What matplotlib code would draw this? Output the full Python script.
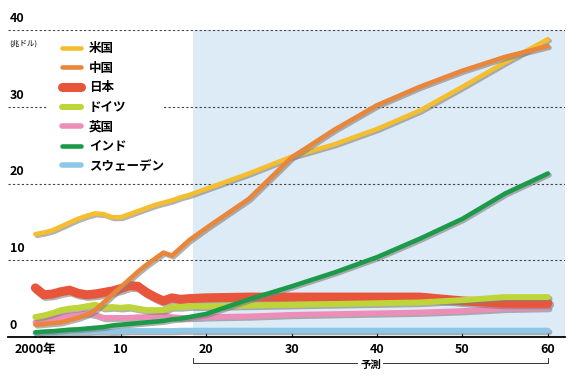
import matplotlib
matplotlib.use("Agg")
import matplotlib.pyplot as plt
import matplotlib.patheffects as pe
from matplotlib.patches import Rectangle

plt.rcParams['font.family'] = ['Noto Sans CJK JP', 'DejaVu Sans']

# 年 (2000-2018 実績, 2020以降 予測)
years = list(range(2000, 2019)) + [2020, 2025, 2030, 2035, 2040, 2045, 2050, 2055, 2060]

# GDP (兆ドル)
us = [13.4, 13.6, 13.9, 14.4, 14.9, 15.4, 15.8, 16.1, 16.0, 15.6, 15.6, 16.0, 16.4, 16.8, 17.2, 17.5, 17.8, 18.2, 18.5,
      19.3, 21.3, 23.5, 25.1, 27.1, 29.5, 32.6, 35.8, 38.8]
china = [1.6, 1.7, 1.8, 1.9, 2.2, 2.5, 2.9, 3.5, 4.5, 5.5, 6.5, 7.5, 8.5, 9.4, 10.2, 11.0, 10.6, 11.6, 12.6,
         14.2, 18.0, 23.4, 27.0, 30.2, 32.6, 34.7, 36.5, 37.9]
japan = [6.4, 5.5, 5.6, 5.9, 6.1, 5.7, 5.5, 5.6, 5.8, 6.0, 6.3, 6.7, 6.6, 5.8, 5.2, 4.7, 5.1, 4.9, 5.0,
         5.1, 5.2, 5.2, 5.2, 5.2, 5.2, 4.7, 4.4, 4.4]
germany = [2.6, 2.8, 3.1, 3.5, 3.7, 3.8, 4.0, 4.2, 3.8, 3.9, 3.8, 3.9, 3.7, 3.5, 3.5, 3.5, 3.9, 3.9, 4.0,
           4.0, 4.1, 4.2, 4.3, 4.4, 4.5, 4.8, 5.2, 5.2]
uk = [1.9, 2.1, 2.4, 2.6, 2.8, 2.9, 3.1, 2.9, 2.5, 2.5, 2.5, 2.5, 2.6, 2.6, 2.7, 2.9, 2.6, 2.5, 2.5,
      2.6, 2.7, 2.9, 3.0, 3.1, 3.2, 3.4, 3.7, 3.8]
india = [0.6, 0.7, 0.75, 0.85, 0.95, 1.0, 1.1, 1.2, 1.3, 1.5, 1.6, 1.7, 1.8, 1.9, 2.0, 2.1, 2.3, 2.4, 2.6,
         3.0, 4.9, 6.6, 8.4, 10.4, 12.8, 15.4, 18.7, 21.3]
sweden = [0.5, 0.5, 0.55, 0.6, 0.65, 0.7, 0.7, 0.75, 0.75, 0.7, 0.75, 0.8, 0.8, 0.8, 0.8, 0.8, 0.8, 0.85, 0.85,
          0.85, 0.85, 0.85, 0.85, 0.85, 0.85, 0.85, 0.85, 0.85]

y_ticks = [0, 10, 20, 30, 40]
x_ticks = [2000, 2010, 2020, 2030, 2040, 2050, 2060]
x_labels = ['2000年', '10', '20', '30', '40', '50', '60']
forecast_start = 2018.5

fig = plt.figure(figsize=(5.76, 3.77), dpi=100)
ax = fig.add_axes([8 / 576, 1 - 337 / 377, 557 / 576, 307 / 377])
ax.set_xlim(1996.8, 2062)
ax.set_ylim(0, 40)

ax.axvspan(forecast_start, 2062, color='#DDEBF7', zorder=0, lw=0)
for v in y_ticks[1:]:
    ax.axhline(v, color='#444444', lw=0.8, dashes=(2, 2), zorder=0.5)

# white gap behind legend
ax.add_patch(Rectangle((48 / 576, 1 - 176 / 377), 114 / 576, 138 / 377, transform=fig.transFigure,
                       facecolor='white', edgecolor='none', zorder=0.8))

shadow = [pe.SimpleLineShadow(offset=(1.2, -1.2), shadow_color='#808080', alpha=0.6), pe.Normal()]

series = [
    ('米国', us, '#F5BE2E', 3.3, 7),
    ('中国', china, '#E98639', 3.3, 8),
    ('日本', japan, '#E8553A', 6.5, 4),
    ('ドイツ', germany, '#BED539', 4.3, 5),
    ('英国', uk, '#EE8DB8', 4.0, 3),
    ('インド', india, '#1C9A4A', 3.3, 6),
    ('スウェーデン', sweden, '#8EC8E6', 4.0, 2),
]
handles = []
for name, vals, col, lw, z in series:
    ln, = ax.plot(years, vals, color=col, lw=lw, solid_capstyle='round', solid_joinstyle='round',
                  zorder=z, path_effects=shadow, label=name, clip_on=False)
    handles.append(ln)

leg = fig.legend(handles=handles, loc='upper left', bbox_to_anchor=(62 / 576, 1 - 42 / 377),
                 frameon=False, fontsize=9, handlelength=1.5, handletextpad=0.65,
                 labelspacing=0.53, borderpad=0, borderaxespad=0)
for t in leg.get_texts():
    t.set_fontweight('bold')
for h in leg.legend_handles:
    h.set_path_effects([])
    h.set_solid_capstyle('round')

for s in ['top', 'right', 'left']:
    ax.spines[s].set_visible(False)
ax.spines['bottom'].set_linewidth(1.3)
ax.set_yticks([])
ax.set_xticks(x_ticks)
ax.set_xticklabels(x_labels, fontsize=9, fontweight='bold')
ax.tick_params(axis='x', direction='in', length=3, width=0.8, pad=4)

for v in y_ticks:
    ax.text(1997.0, v + 1.5, str(v), fontsize=9, fontweight='bold', ha='left', va='center')
ax.text(1997.0, 38.2, '(兆ドル)', fontsize=5.5, ha='left', va='center')

# 予測 bracket
tr = ax.get_xaxis_transform()
ax.plot([forecast_start, forecast_start, 2060, 2060], [-0.068, -0.085, -0.085, -0.068],
        color='#333333', lw=0.7, transform=tr, clip_on=False)
ax.text((forecast_start + 2060) / 2, -0.09, '予測', transform=tr, ha='center', va='center',
        fontsize=7.5, fontweight='bold', bbox=dict(facecolor='white', edgecolor='none', pad=1.5))

fig.savefig('out.png', dpi=100)
